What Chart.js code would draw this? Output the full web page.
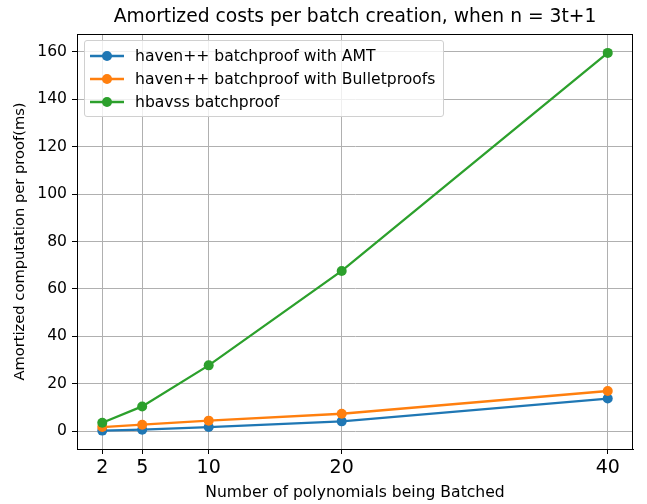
<!DOCTYPE html>
<html>
<head>
<meta charset="utf-8">
<script src="https://cdn.jsdelivr.net/npm/chart.js@4/dist/chart.umd.min.js"></script>
<style>
    html, body { margin: 0; padding: 0; background: #fff; }
    #wrap { position: relative; width: 647px; height: 504px; }
    #legend {
        position: absolute; left: 84px; top: 40px;
        background: rgba(255,255,255,0.8);
        border: 1px solid #d0d0d0; border-radius: 3px;
        padding: 4px 8px 3px 4px;
        font-family: 'DejaVu Sans', sans-serif; font-size: 15.6px; color: #000;
    }
    #legend .item { display: flex; align-items: center; height: 22.7px; }
    #legend svg { margin-right: 10px; }
</style>
</head>
<body>
<div id="wrap">
    <canvas id="chart" width="647" height="504"></canvas>
    <div id="legend"></div>
</div>
<script>
// batch sizes on the x axis
const batchSizes = [2, 5, 10, 20, 40];

const amtCosts = [0.3, 0.7, 1.8, 4.2, 13.8];
const bulletproofCosts = [1.8, 2.8, 4.5, 7.4, 17.0];
const hbavssCosts = [3.6, 10.5, 27.8, 67.6, 159.5];

const xTicks = [2, 5, 10, 20, 40];
const yTicks = [0, 20, 40, 60, 80, 100, 120, 140, 160];

const seriesNames = [
    'haven++ batchproof with AMT',
    'haven++ batchproof with Bulletproofs',
    'hbavss batchproof'
];
const seriesColors = ['#1f77b4', '#ff7f0e', '#2ca02c'];
const seriesValues = [amtCosts, bulletproofCosts, hbavssCosts];

Chart.defaults.font.family = "'DejaVu Sans', sans-serif";
Chart.defaults.color = '#000';

const datasets = seriesValues.map((vals, i) => ({
    label: seriesNames[i],
    data: vals.map((v, j) => ({ x: batchSizes[j], y: v })),
    borderColor: seriesColors[i],
    backgroundColor: seriesColors[i],
    borderWidth: 2.3,
    pointRadius: 5,
    pointHoverRadius: 5,
    pointBorderWidth: 0,
    order: 2 - i   // later series drawn on top, like matplotlib
}));

// top/right spines
const framePlugin = {
    id: 'frame',
    afterDatasetsDraw(chart) {
        const { ctx, chartArea: a } = chart;
        ctx.save();
        ctx.strokeStyle = '#000';
        ctx.lineWidth = 1;
        ctx.strokeRect(Math.round(a.left) + 0.5, Math.round(a.top) + 0.5,
            Math.round(a.right - a.left) - 1, Math.round(a.bottom - a.top));
        ctx.restore();
    }
};

const chart = new Chart(document.getElementById('chart'), {
    type: 'line',
    data: { datasets: datasets },
    options: {
        responsive: false,
        animation: false,
        layout: { padding: { left: 0, right: 14, top: 0, bottom: 0 } },
        plugins: {
            legend: { display: false },
            tooltip: { enabled: false },
            title: {
                display: true,
                fullSize: false,
                text: 'Amortized costs per batch creation, when n = 3t+1',
                font: { size: 18.7, weight: 'normal' },
                color: '#000',
                padding: { top: 6, bottom: 5.6 }
            }
        },
        scales: {
            x: {
                type: 'linear',
                min: 0.1,
                max: 41.9,
                afterBuildTicks(scale) {
                    scale.ticks = xTicks.map(v => ({ value: v }));
                },
                afterFit(scale) { scale.height = 55; },
                ticks: {
                    font: { size: 19 },
                    color: '#000',
                    padding: 3,
                    maxRotation: 0,
                    autoSkip: false
                },
                grid: { color: '#b0b0b0', lineWidth: 1, tickLength: 5, tickColor: '#000' },
                border: { display: true, color: '#000', width: 1 },
                title: {
                    display: true,
                    text: 'Number of polynomials being Batched',
                    font: { size: 15.6 },
                    color: '#000',
                    padding: { top: 0, bottom: 2 }
                }
            },
            y: {
                type: 'linear',
                min: -7.45,
                max: 167.45,
                afterBuildTicks(scale) {
                    scale.ticks = yTicks.map(v => ({ value: v }));
                },
                afterFit(scale) { scale.width = 77; },
                ticks: {
                    font: { size: 15.6 },
                    color: '#000',
                    padding: 5
                },
                grid: { color: '#b0b0b0', lineWidth: 1, tickLength: 5, tickColor: '#000' },
                border: { display: true, color: '#000', width: 1 },
                title: {
                    display: true,
                    text: 'Amortized computation per proof(ms)',
                    font: { size: 14.7 },
                    color: '#000',
                    padding: { top: 11, bottom: 0 }
                }
            }
        }
    },
    plugins: [framePlugin]
});

// matplotlib-like legend box in the upper left
const legendEl = document.getElementById('legend');
chart.data.datasets.forEach(ds => {
    const row = document.createElement('div');
    row.className = 'item';
    row.innerHTML =
        '<svg width="36" height="12"><line x1="1" y1="6" x2="35" y2="6" stroke="' + ds.borderColor +
        '" stroke-width="2.3"/><circle cx="18" cy="6" r="5" fill="' + ds.borderColor + '"/></svg>' +
        '<span>' + ds.label + '</span>';
    legendEl.appendChild(row);
});
</script>
</body>
</html>
